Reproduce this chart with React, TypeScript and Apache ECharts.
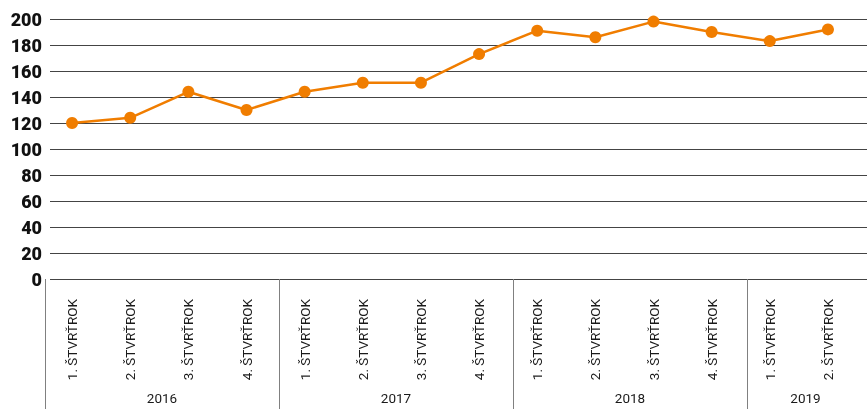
import React, { useEffect, useRef } from "react";
import * as echarts from "echarts";

const quarterLabels = [
  "1. ŠTVRŤROK", "2. ŠTVRŤROK", "3. ŠTVRŤROK", "4. ŠTVRŤROK",
  "1. ŠTVRŤROK", "2. ŠTVRŤROK", "3. ŠTVRŤROK", "4. ŠTVRŤROK",
  "1. ŠTVRŤROK", "2. ŠTVRŤROK", "3. ŠTVRŤROK", "4. ŠTVRŤROK",
  "1. ŠTVRŤROK", "2. ŠTVRŤROK",
];
const values = [120, 124, 144, 130, 144, 151, 151, 173, 191, 186, 198, 190, 183, 192];
const years = ["2016", "2017", "2018", "2019"];
const quartersPerYear = [4, 4, 4, 2];
const yTicks = { min: 0, max: 200, interval: 20 };

export default function App() {
  const ref = useRef<HTMLDivElement>(null);
  useEffect(() => {
    if (!ref.current) return;
    const chart = echarts.init(ref.current, null, { renderer: "svg" });

    const total = quartersPerYear.reduce((a, b) => a + b, 0);
    const yearAxisData: string[] = new Array(total * 2 + 1).fill("");
    const sepIdx: number[] = [];
    let cum = 0;
    years.forEach((y, i) => {
      sepIdx.push(cum * 2);
      yearAxisData[cum * 2 + quartersPerYear[i]] = y;
      cum += quartersPerYear[i];
    });

    const top = 19;
    const bottom = 130;
    const font = "Roboto, 'DejaVu Sans', sans-serif";

    chart.setOption({
      animation: false,
      grid: [
        { left: 50, right: 0, top, bottom },
        { left: 43, right: 10, top, bottom },
        { left: 45, right: 3, top, bottom },
      ],
      xAxis: [
        { gridIndex: 0, type: "category", data: quarterLabels, show: false },
        {
          gridIndex: 1,
          type: "category",
          data: quarterLabels,
          boundaryGap: true,
          axisLine: { show: false },
          axisTick: { show: false },
          axisLabel: {
            rotate: 90,
            margin: 20,
            interval: 0,
            fontFamily: font,
            fontSize: 13.5,
            color: "#1a1a1a",
          },
        },
        {
          gridIndex: 2,
          type: "category",
          data: yearAxisData,
          boundaryGap: false,
          offset: 10,
          axisLine: { show: false },
          axisTick: {
            show: true,
            length: 140,
            interval: (index: number) => sepIdx.includes(index),
            lineStyle: { color: "#808080", width: 1 },
          },
          axisLabel: {
            interval: 0,
            margin: 102,
            fontFamily: font,
            fontSize: 13.5,
            color: "#1a1a1a",
            hideOverlap: false,
          },
        },
      ],
      yAxis: [
        {
          gridIndex: 0,
          type: "value",
          min: yTicks.min,
          max: yTicks.max,
          interval: yTicks.interval,
          axisLine: { show: false },
          axisTick: { show: false },
          splitLine: { show: true, lineStyle: { color: "#444", width: 1 } },
          axisLabel: {
            margin: 8,
            fontFamily: font,
            fontWeight: 900,
            fontSize: 18,
            color: "#111",
          },
        },
        {
          gridIndex: 1,
          type: "value",
          min: yTicks.min,
          max: yTicks.max,
          interval: yTicks.interval,
          show: false,
        },
        {
          gridIndex: 2,
          type: "value",
          min: yTicks.min,
          max: yTicks.max,
          show: false,
        },
      ],
      series: [
        {
          type: "line",
          xAxisIndex: 1,
          yAxisIndex: 1,
          data: values,
          symbol: "circle",
          symbolSize: 12,
          lineStyle: { color: "#f07d00", width: 2.5 },
          itemStyle: { color: "#f07d00" },
        },
      ],
    });
    return () => chart.dispose();
  }, []);
  return (
    <div
      ref={ref}
      style={{ position: "fixed", left: 0, top: 0, width: 867, height: 409 }}
    />
  );
}
